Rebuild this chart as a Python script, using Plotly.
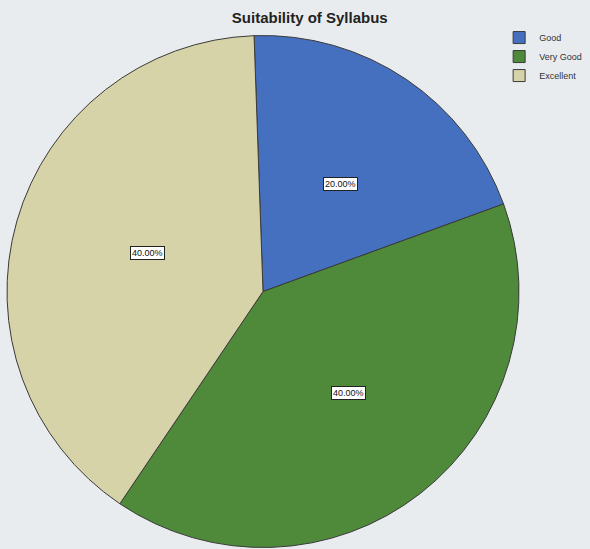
import math
import plotly.graph_objects as go

categories = ["Good", "Very Good", "Excellent"]
percentages = [20.0, 40.0, 40.0]
colors = ["#4570c0", "#4e8a3a", "#d7d3a9"]

W, H = 590, 549
dom_x = [7 / W, 519 / W]
dom_y = [0.0, 0.938]
ROT = -2.0

fig = go.Figure()
fig.add_trace(go.Pie(
    labels=categories,
    values=percentages,
    sort=False,
    direction="clockwise",
    rotation=ROT,
    marker=dict(colors=colors, line=dict(color="#3a3a3a", width=1)),
    textinfo="none",
    hoverinfo="label+percent",
    domain=dict(x=dom_x, y=dom_y),
))

# label boxes placed from the data (mid-angle of each slice)
cx = (dom_x[0] + dom_x[1]) / 2 * W
side = min((dom_x[1] - dom_x[0]) * W, (dom_y[1] - dom_y[0]) * H)
r = side / 2
cy_px = H - (dom_y[0] + dom_y[1]) / 2 * H
total = sum(percentages)
start = ROT
for v in percentages:
    ang = start + v / total * 360 / 2
    start += v / total * 360
    a = math.radians(ang)
    px = cx + 0.54 * r * math.sin(a)
    py = cy_px - 0.54 * r * math.cos(a)
    fig.add_annotation(
        x=px / W, y=1 - py / H, xref="paper", yref="paper",
        text=f"{v:.2f}%", showarrow=False,
        font=dict(family="Arial", size=9, color="#111"),
        bgcolor="white", bordercolor="#222", borderwidth=1, borderpad=1,
    )

fig.update_layout(
    width=W, height=H,
    margin=dict(l=0, r=0, t=0, b=0),
    paper_bgcolor="#e9ecee",
    plot_bgcolor="#e9ecee",
    title=dict(text="<b>Suitability of Syllabus</b>", x=0.525, xanchor="center",
               y=0.968, yanchor="middle",
               font=dict(family="Arial", size=15, color="#222")),
    legend=dict(x=0.846, y=0.958, xanchor="left", yanchor="top",
                font=dict(family="Arial", size=9, color="#333"),
                bgcolor="rgba(0,0,0,0)", itemwidth=30, tracegroupgap=0),
    showlegend=True,
)

fig.write_html("out.html", config={"displayModeBar": False},
               post_script="document.body.style.margin='0';document.body.style.overflow='hidden';")
